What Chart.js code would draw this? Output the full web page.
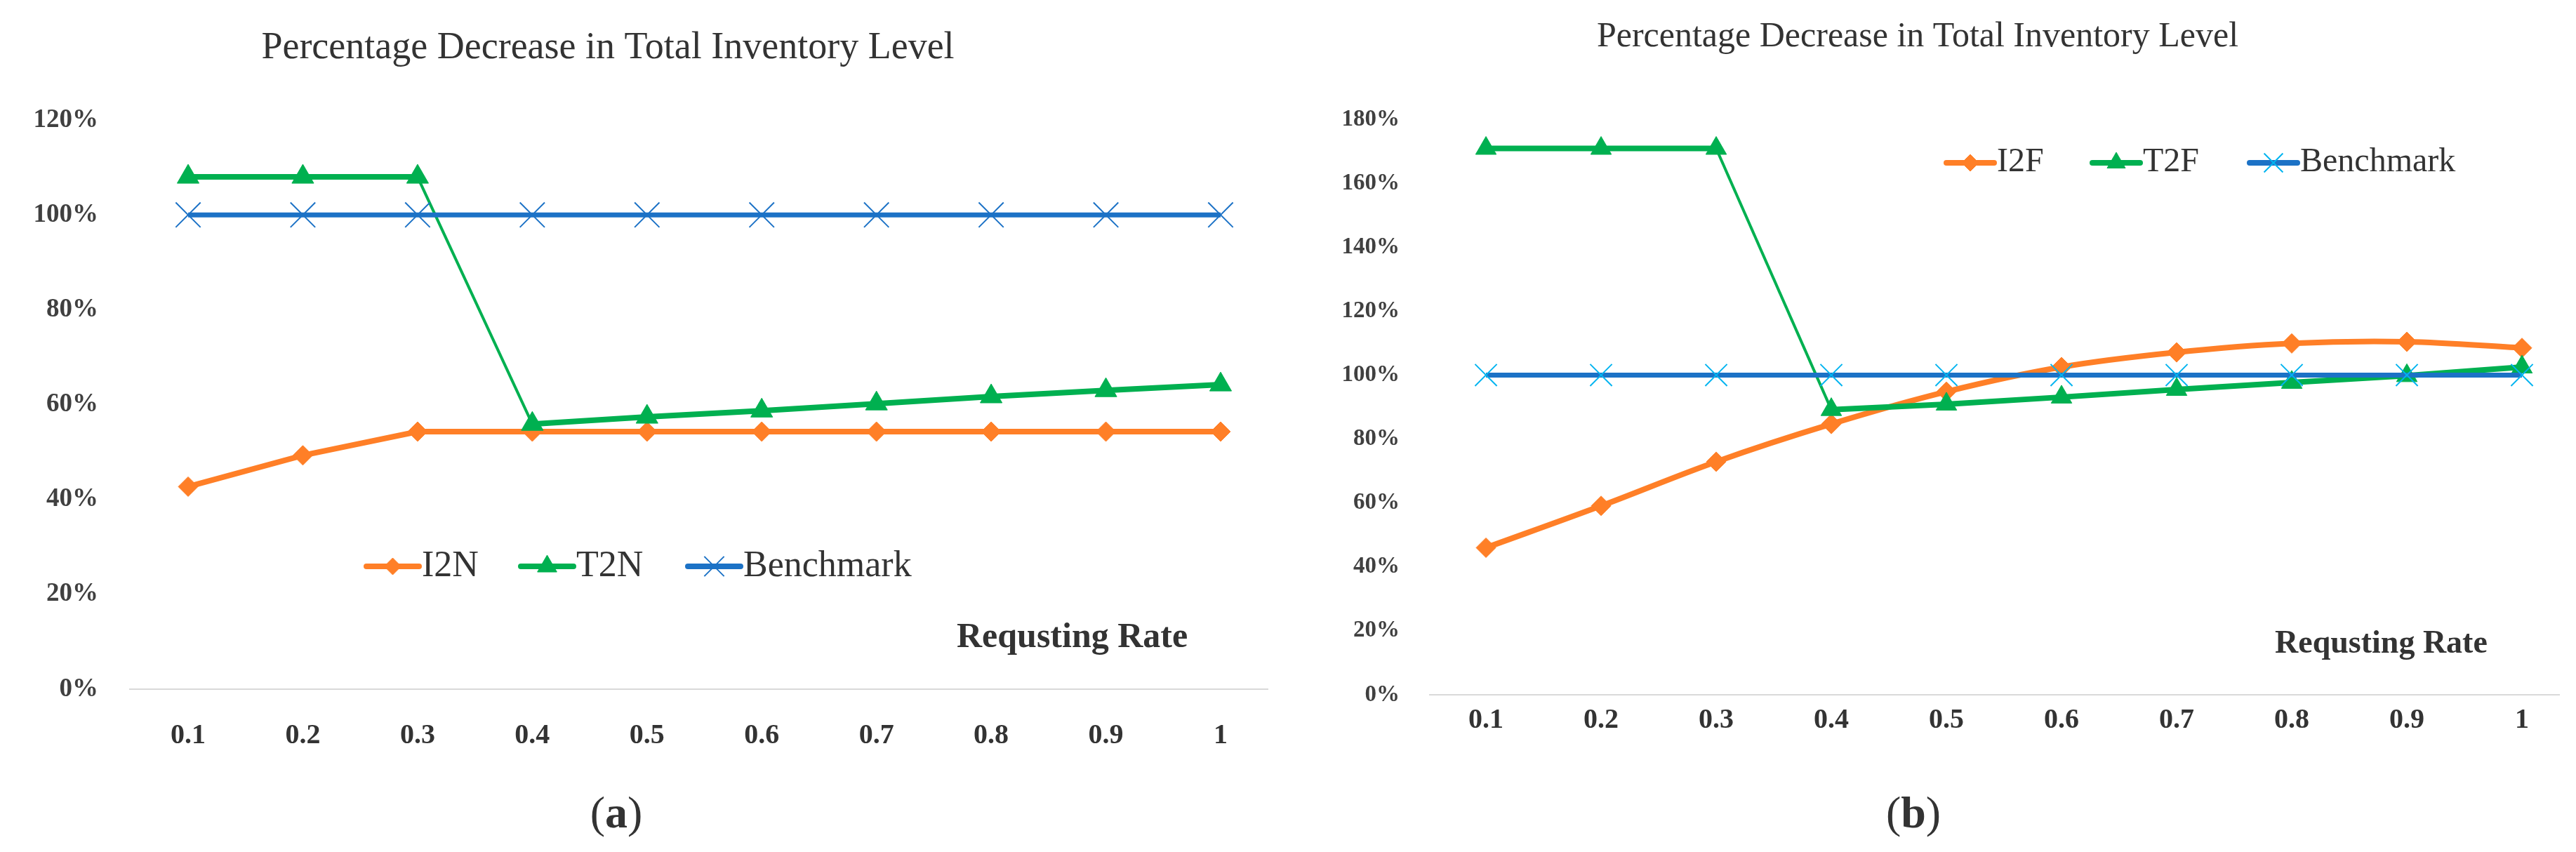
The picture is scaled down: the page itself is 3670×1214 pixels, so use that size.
<!DOCTYPE html>
<html>
<head>
<meta charset="utf-8">
<title>Percentage Decrease in Total Inventory Level</title>
<script src="https://cdn.jsdelivr.net/npm/chart.js@4.4.0/dist/chart.umd.min.js"></script>
<style>
  body { margin: 0; background: #fff; width: 3670px; height: 1214px; overflow: hidden; position: relative; }
  .box { position: absolute; top: 0; width: 1835px; height: 1214px; }
</style>
</head>
<body>
<div class="box" style="left:0"><canvas id="chartA"></canvas></div>
<div class="box" style="left:1835px"><canvas id="chartB"></canvas></div>
<script>
// requesting rate (x axis)
const rates = [0.1, 0.2, 0.3, 0.4, 0.5, 0.6, 0.7, 0.8, 0.9, 1];

// (a) values in %
const i2n = [42.7, 49.3, 54.3, 54.3, 54.3, 54.3, 54.3, 54.3, 54.3, 54.3];
const t2n = [108, 108, 108, 55.9, 57.4, 58.7, 60.2, 61.7, 63.0, 64.2];
const benchA = [100, 100, 100, 100, 100, 100, 100, 100, 100, 100];

// (b) values in %
const i2f = [46.0, 59.1, 72.9, 84.7, 94.8, 102.5, 107.1, 109.9, 110.4, 108.5];
const t2f = [170.9, 170.9, 170.9, 89.2, 90.9, 93.1, 95.5, 97.7, 99.8, 102.5];
const benchB = [100, 100, 100, 100, 100, 100, 100, 100, 100, 100];

const yTicksA = [0, 20, 40, 60, 80, 100, 120];
const yTicksB = [0, 20, 40, 60, 80, 100, 120, 140, 160, 180];

const titleText = 'Percentage Decrease in Total Inventory Level';
const FONT = '"Liberation Serif", "Times New Roman", serif';

const ORANGE = '#FF7F27';
const GREEN = '#00B050';
const BLUE = '#1C72C6';
const CYAN = '#00B4F0';

const pts = (ys) => ys.map((y, i) => ({ x: rates[i], y: y }));
const steep = (thin, thick) => (c => Math.abs(c.p1.parsed.y - c.p0.parsed.y) > 30 ? thin : thick);

// titles, in-plot legend, axis title and caption
const decor = {
  id: 'decor',
  afterDraw(chart, args, o) {
    const ctx = chart.ctx;
    ctx.save();
    ctx.fillStyle = '#333';
    ctx.textBaseline = 'alphabetic';

    ctx.font = o.titleSize + 'px ' + FONT;
    ctx.textAlign = 'center';
    ctx.fillText(titleText, o.titleX, o.titleY);

    ctx.font = 'bold ' + o.axisSize + 'px ' + FONT;
    ctx.textAlign = 'left';
    ctx.fillText('Requsting Rate', o.axisX, o.axisY);

    // caption like (a)
    ctx.font = o.capSize + 'px ' + FONT;
    const wL = ctx.measureText('(').width;
    ctx.font = 'bold ' + o.capSize + 'px ' + FONT;
    const wM = ctx.measureText(o.cap).width;
    let cx = o.capX - (2 * wL + wM) / 2;
    ctx.font = o.capSize + 'px ' + FONT;
    ctx.fillText('(', cx, o.capY);
    ctx.font = 'bold ' + o.capSize + 'px ' + FONT;
    ctx.fillText(o.cap, cx + wL, o.capY);
    ctx.font = o.capSize + 'px ' + FONT;
    ctx.fillText(')', cx + wL + wM, o.capY);

    // legend
    chart.data.datasets.forEach((ds, i) => {
      const it = o.legend[i];
      ctx.strokeStyle = ds.borderColor;
      ctx.lineWidth = 8;
      ctx.lineCap = 'round';
      ctx.beginPath();
      ctx.moveTo(it.x, o.legendY);
      ctx.lineTo(it.x + o.lineLen, o.legendY);
      ctx.stroke();
      ctx.lineCap = 'butt';
      ctx.fillStyle = ds.pointBackgroundColor;
      ctx.strokeStyle = ds.pointBorderColor;
      ctx.lineWidth = ds.pointBorderWidth;
      Chart.helpers.drawPoint(ctx, {
        pointStyle: ds.pointStyle, radius: it.r, borderWidth: ds.pointBorderWidth, rotation: 0
      }, it.x + o.lineLen / 2, o.legendY);
      ctx.fillStyle = '#333';
      ctx.font = o.legendSize + 'px ' + FONT;
      ctx.fillText(ds.label, it.x + o.lineLen + 4, o.textY);
    });
    ctx.restore();
  }
};

const makeChart = (id, sets, yTicks, lay) => {
  return new Chart(document.getElementById(id), {
    type: 'line',
    data: { datasets: sets },
    options: {
      animation: false,
      responsive: true,
      maintainAspectRatio: false,
      devicePixelRatio: 1,
      layout: { padding: { top: lay.top, right: lay.right, bottom: 0, left: 0 } },
      scales: {
        x: {
          type: 'linear',
          min: lay.xMin,
          max: lay.xMax,
          afterBuildTicks: s => { s.ticks = rates.map(v => ({ value: v })); },
          afterFit: s => { s.height = lay.xHeight; },
          grid: { display: false, drawTicks: false },
          border: { display: true, color: '#D9D9D9', width: 2 },
          ticks: {
            padding: lay.xPad,
            color: '#333',
            font: { family: FONT, size: 40, weight: 'bold' },
            callback: v => String(v)
          }
        },
        y: {
          min: 0,
          max: yTicks[yTicks.length - 1],
          afterBuildTicks: s => { s.ticks = yTicks.map(v => ({ value: v })); },
          afterFit: s => { s.width = lay.yWidth; },
          grid: { display: false, drawTicks: false },
          border: { display: false },
          ticks: {
            padding: lay.yPad,
            color: '#404040',
            font: { family: FONT, size: lay.ySize, weight: 'bold' },
            callback: v => v + '%'
          }
        }
      },
      plugins: {
        legend: { display: false },
        title: { display: false },
        tooltip: { enabled: false },
        decor: lay.decor
      }
    },
    plugins: [decor]
  });
};

document.addEventListener('DOMContentLoaded', () => {
  makeChart('chartA', [
    {
      label: 'I2N', data: pts(i2n), borderColor: ORANGE, borderWidth: 8,
      pointStyle: 'rectRot', pointRadius: 14, pointBackgroundColor: ORANGE,
      pointBorderColor: ORANGE, pointBorderWidth: 1, order: 3
    },
    {
      label: 'T2N', data: pts(t2n), borderColor: GREEN, borderWidth: 8,
      segment: { borderWidth: steep(4, 8) },
      pointStyle: 'triangle', pointRadius: 18, pointBackgroundColor: GREEN,
      pointBorderColor: GREEN, pointBorderWidth: 1, order: 2
    },
    {
      label: 'Benchmark', data: pts(benchA), borderColor: BLUE, borderWidth: 7,
      pointStyle: 'crossRot', pointRadius: 25, pointBackgroundColor: BLUE,
      pointBorderColor: BLUE, pointBorderWidth: 2, order: 1
    }
  ], yTicksA, {
    top: 171, right: 29, xHeight: 232, yWidth: 185, xPad: 43, yPad: 45, ySize: 37,
    xMin: 0.0492, xMax: 1.041,
    decor: {
      titleSize: 54, titleX: 866, titleY: 83,
      axisSize: 50, axisX: 1363, axisY: 922,
      cap: 'a', capSize: 64, capX: 878, capY: 1179,
      legendY: 807, textY: 821, legendSize: 52, lineLen: 75,
      legend: [{ x: 522, r: 12 }, { x: 742, r: 16 }, { x: 980, r: 20 }]
    }
  });

  makeChart('chartB', [
    {
      label: 'I2F', data: pts(i2f), borderColor: ORANGE, borderWidth: 8, tension: 0.35,
      pointStyle: 'rectRot', pointRadius: 14, pointBackgroundColor: ORANGE,
      pointBorderColor: ORANGE, pointBorderWidth: 1, order: 3
    },
    {
      label: 'T2F', data: pts(t2f), borderColor: GREEN, borderWidth: 8,
      segment: { borderWidth: steep(4, 8) },
      pointStyle: 'triangle', pointRadius: 17, pointBackgroundColor: GREEN,
      pointBorderColor: GREEN, pointBorderWidth: 1, order: 2
    },
    {
      label: 'Benchmark', data: pts(benchB), borderColor: BLUE, borderWidth: 7,
      pointStyle: 'crossRot', pointRadius: 22, pointBackgroundColor: CYAN,
      pointBorderColor: CYAN, pointBorderWidth: 2, order: 1
    }
  ], yTicksB, {
    top: 170, right: 23, xHeight: 224, yWidth: 202, xPad: 13, yPad: 43, ySize: 33,
    xMin: 0.0512, xMax: 1.0323,
    decor: {
      titleSize: 50, titleX: 897, titleY: 66,
      axisSize: 46, axisX: 1406, axisY: 930,
      cap: 'b', capSize: 64, capX: 891, capY: 1179,
      legendY: 232, textY: 244, legendSize: 48, lineLen: 68,
      legend: [{ x: 938, r: 12 }, { x: 1146, r: 15 }, { x: 1370, r: 19 }]
    }
  });
});
</script>
</body>
</html>
